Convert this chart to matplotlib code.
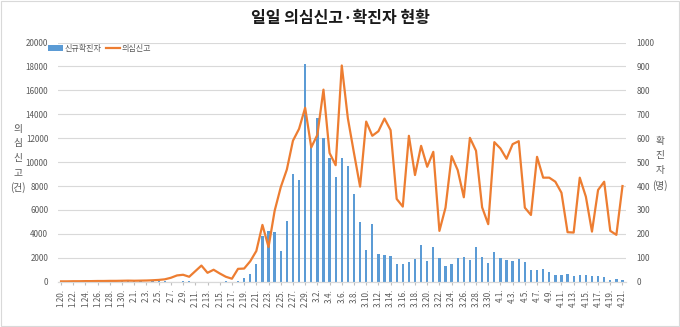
import numpy as np
import pandas as pd
import matplotlib
matplotlib.use('Agg')
import matplotlib.pyplot as plt
from matplotlib.patches import Rectangle

plt.rcParams['font.family'] = ['Noto Sans CJK KR', 'DejaVu Sans']

# dates 2020-01-20 .. 2020-04-21
dates = pd.date_range('2020-01-20', '2020-04-21')
labels = [f"{d.month}.{d.day}." for d in dates]

# 신규확진자 (명), right axis
confirmed = (
    [1, 0, 0, 0, 1, 0, 1, 1, 0, 0, 3, 4]
    + [1, 3, 0, 1, 3, 4, 0, 0, 3, 1, 0, 0, 0, 0, 0, 2, 0, 1, 15, 34,
       74, 190, 210, 207, 130, 253, 449, 427, 909]
    + [575, 686, 600, 516, 438, 518, 483, 367, 248, 131, 242, 114, 110, 107, 76,
       74, 84, 93, 152, 87, 147, 98, 64, 76, 100, 104, 91, 146, 105, 78, 125]
    + [101, 89, 86, 94, 81, 47, 47, 53, 39, 27, 30, 32, 25, 27, 27, 22, 22, 18,
       8, 13, 9]
)

# 의심신고 (건), left axis
suspected = (
    [30, 30, 40, 40, 50, 50, 60, 60, 70, 70, 80, 90]
    + [80, 90, 100, 120, 150, 200, 330, 525, 580, 414, 883, 1350, 745, 1000,
       690, 414, 250, 1076, 1100, 1710, 2570, 4750, 2900, 5930, 7900, 9380,
       11790, 12780, 14545]
    + [11230, 12280, 16060, 10760, 9740, 18080, 13660, 10760, 7950, 13390,
       12200, 12580, 13640, 12670, 6920, 6280, 12200, 8920, 11360, 9610,
       10860, 4250, 6190, 10500, 9330, 7060, 12030, 10950, 6220, 4810, 11670]
    + [11140, 10280, 11500, 11750, 6190, 5580, 10440, 8700, 8700, 8360, 7440,
       4140, 4110, 8700, 7110, 4190, 7670, 8360, 4250, 3920, 8000]
)

x = np.arange(len(dates))
blue = '#5B9BD5'
orange = '#ED7D31'
tick_color = '#595959'

fig = plt.figure(figsize=(6.8, 3.27), dpi=100)
ax = fig.add_axes([0.0853, 0.1385, 0.8346, 0.7315])
ax2 = ax.twinx()

bars = ax2.bar(x, confirmed, width=0.38, color=blue, label='신규확진자')
line, = ax.plot(x, suspected, color=orange, lw=1.6, label='의심신고')

# line above bars
ax.set_zorder(ax2.get_zorder() + 1)
ax.patch.set_visible(False)

ax.set_xlim(-0.5, len(dates) - 0.5)
ax.set_ylim(0, 20000)
ax2.set_ylim(0, 1000)
ax.set_yticks(np.arange(0, 20001, 2000))
ax2.set_yticks(np.arange(0, 1001, 100))
ax2.grid(axis='y', color='#D9D9D9', lw=0.8)
ax2.set_axisbelow(True)

ax.set_xticks(x[::2])
ax.set_xticklabels(labels[::2], rotation=90, fontsize=5.8, color=tick_color)
ax.tick_params(axis='x', length=2, color='#BFBFBF', pad=3)
ax.tick_params(axis='y', length=0, labelsize=5.8, labelcolor=tick_color, pad=7)
ax2.tick_params(axis='y', length=0, labelsize=5.8, labelcolor=tick_color, pad=8)

for a in (ax, ax2):
    for s in ('top', 'left', 'right'):
        a.spines[s].set_visible(False)
    a.spines['bottom'].set_color('#D9D9D9')

fig.text(0.027, 0.515, '의\n심\n신\n고\n(건)', ha='center', va='center',
         fontsize=7, color=tick_color, linespacing=1.55)
fig.text(0.971, 0.50, '확\n진\n자\n(명)', ha='center', va='center',
         fontsize=7, color=tick_color, linespacing=1.6)

fig.text(0.5, 0.945, '일일 의심신고·확진자 현황', ha='center', va='center',
         fontsize=11.5, fontweight='bold', color='#1a1a1a')

fig.legend([bars, line], ['신규확진자', '의심신고'], loc='center left',
           bbox_to_anchor=(0.06, 0.853), ncol=2, frameon=False, fontsize=5.8,
           handlelength=1.8, handletextpad=0.2, columnspacing=0.6,
           labelcolor=tick_color)

fig.patches.append(Rectangle((0.001, 0.002), 0.997, 0.995, transform=fig.transFigure,
                             fill=False, edgecolor='#D9D9D9', lw=0.8))

fig.savefig('out.png', dpi=100)
